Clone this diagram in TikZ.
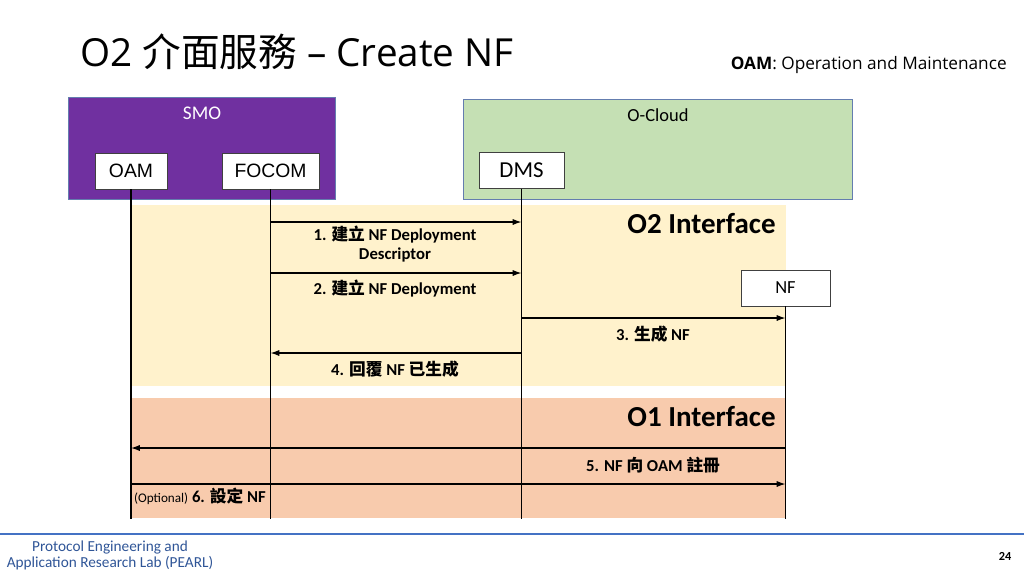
\documentclass[tikz,border=0pt]{standalone}
\usepackage{fontspec}
\setmainfont{Carlito}
\newfontfamily\cjk{Noto Sans CJK TC}
\newfontfamily\segoe{Open Sans}
\newfontfamily\arial{Liberation Sans}
\usetikzlibrary{arrows.meta}
\definecolor{smopurple}{RGB}{112,48,160}
\definecolor{cloudgreen}{RGB}{197,224,180}
\definecolor{framegrey}{RGB}{100,125,175}
\definecolor{otwoband}{RGB}{255,242,204}
\definecolor{oneband}{RGB}{248,203,173}
\definecolor{pearlblue}{RGB}{47,85,151}
\definecolor{lineblue}{RGB}{68,114,196}

\begin{document}
\begin{tikzpicture}[x=0.02cm,y=-0.02cm,
  ent/.style={draw=black!75,fill=white,minimum height=0.72cm,inner sep=0pt},
  msg/.style={-{Latex[length=5pt,width=3.5pt]},line width=0.7pt},
  lbl/.style={font=\bfseries\fontsize{9.5}{10.5}\selectfont,align=center},
  life/.style={line width=0.7pt}]
\useasboundingbox (0,0) rectangle (1024,576);

% title and legend
\node[anchor=west,inner sep=0pt,font=\segoe\fontsize{22}{26}\selectfont] (title) at (80,52) {O2 {\cjk 介面服務} – Create NF};
\node[anchor=east,inner sep=0pt,font=\segoe\fontsize{9.8}{12}\selectfont] (legend) at (1007,65) {\textbf{OAM}: Operation and Maintenance};

% interface bands
\fill[otwoband] (131,205) rectangle (786,386);
\fill[oneband] (131,398) rectangle (786,518);
\node[anchor=east,inner sep=0pt,font=\bfseries\fontsize{16.5}{18}\selectfont] (otwo) at (776,224) {O2 Interface};
\node[anchor=east,inner sep=0pt,font=\bfseries\fontsize{16.5}{18}\selectfont] (oone) at (776,417) {O1 Interface};

% SMO and O-Cloud
\draw[framegrey,fill=smopurple] (68,97) rectangle (335,199);
\node[white,font=\fontsize{11}{13}\selectfont] (smo) at (202,113) {SMO};
\draw[framegrey,fill=cloudgreen] (463,99) rectangle (852,199);
\node[font=\fontsize{10.5}{12}\selectfont] (ocloud) at (658,115) {O-Cloud};

\node[ent,font=\arial\fontsize{11}{13}\selectfont,minimum width=1.44cm] (oam) at (131,171) {OAM};
\node[ent,font=\arial\fontsize{11}{13}\selectfont,minimum width=1.94cm] (focom) at (270.5,171) {FOCOM};
\node[ent,font=\fontsize{13}{15}\selectfont,minimum width=1.7cm] (dms) at (521.5,170.5) {DMS};
\node[ent,font=\fontsize{10.5}{12}\selectfont,minimum width=1.78cm] (nf) at (785.5,288) {NF};

% lifelines
\coordinate (bottom) at (0,519);
\draw[life] (oam) -- (oam |- bottom);
\draw[life] (focom) -- (focom |- bottom);
\draw[life] (dms) -- (dms |- bottom);
\draw[life] (nf) -- (nf |- bottom);

% messages
\coordinate (m1) at (0,222);
\coordinate (m2) at (0,273);
\coordinate (m3) at (0,318);
\coordinate (m4) at (0,353);
\coordinate (m5) at (0,448);
\coordinate (m6) at (0,484);
\draw[msg] (focom |- m1) -- (dms |- m1);
\draw[msg] (focom |- m2) -- (dms |- m2);
\draw[msg] (dms |- m3) -- (nf |- m3);
\draw[msg] (dms |- m4) -- (focom |- m4);
\draw[msg] (nf |- m5) -- (oam |- m5);
\draw[msg] (oam |- m6) -- (nf |- m6);

\node[lbl] (l1) at (395,244) {1. {\cjk 建立} NF Deployment\\Descriptor};
\node[lbl] (l2) at (395,289) {2. {\cjk 建立} NF Deployment};
\node[lbl] (l3) at (653,334) {3. {\cjk 生成} NF};
\node[lbl] (l4) at (395,369) {4. {\cjk 回覆} NF {\cjk 已生成}};
\node[lbl] (l5) at (653,465) {5. NF {\cjk 向} OAM {\cjk 註冊}};
\node[lbl,anchor=west,inner sep=1pt] (l6) at (132,496) {{\mdseries\fontsize{7.5}{9}\selectfont(Optional)} 6. {\cjk 設定} NF};

% footer
\draw[lineblue,line width=1.5pt] (0,534) -- (1024,534);
\node[pearlblue,font=\fontsize{8.7}{8.7}\selectfont,align=center] (pearl) at (110,555.5) {Protocol Engineering and\\Application Research Lab (PEARL)};
\node[font=\bfseries\fontsize{7}{8}\selectfont] (pnum) at (1005,556) {24};
\end{tikzpicture}
\end{document}
